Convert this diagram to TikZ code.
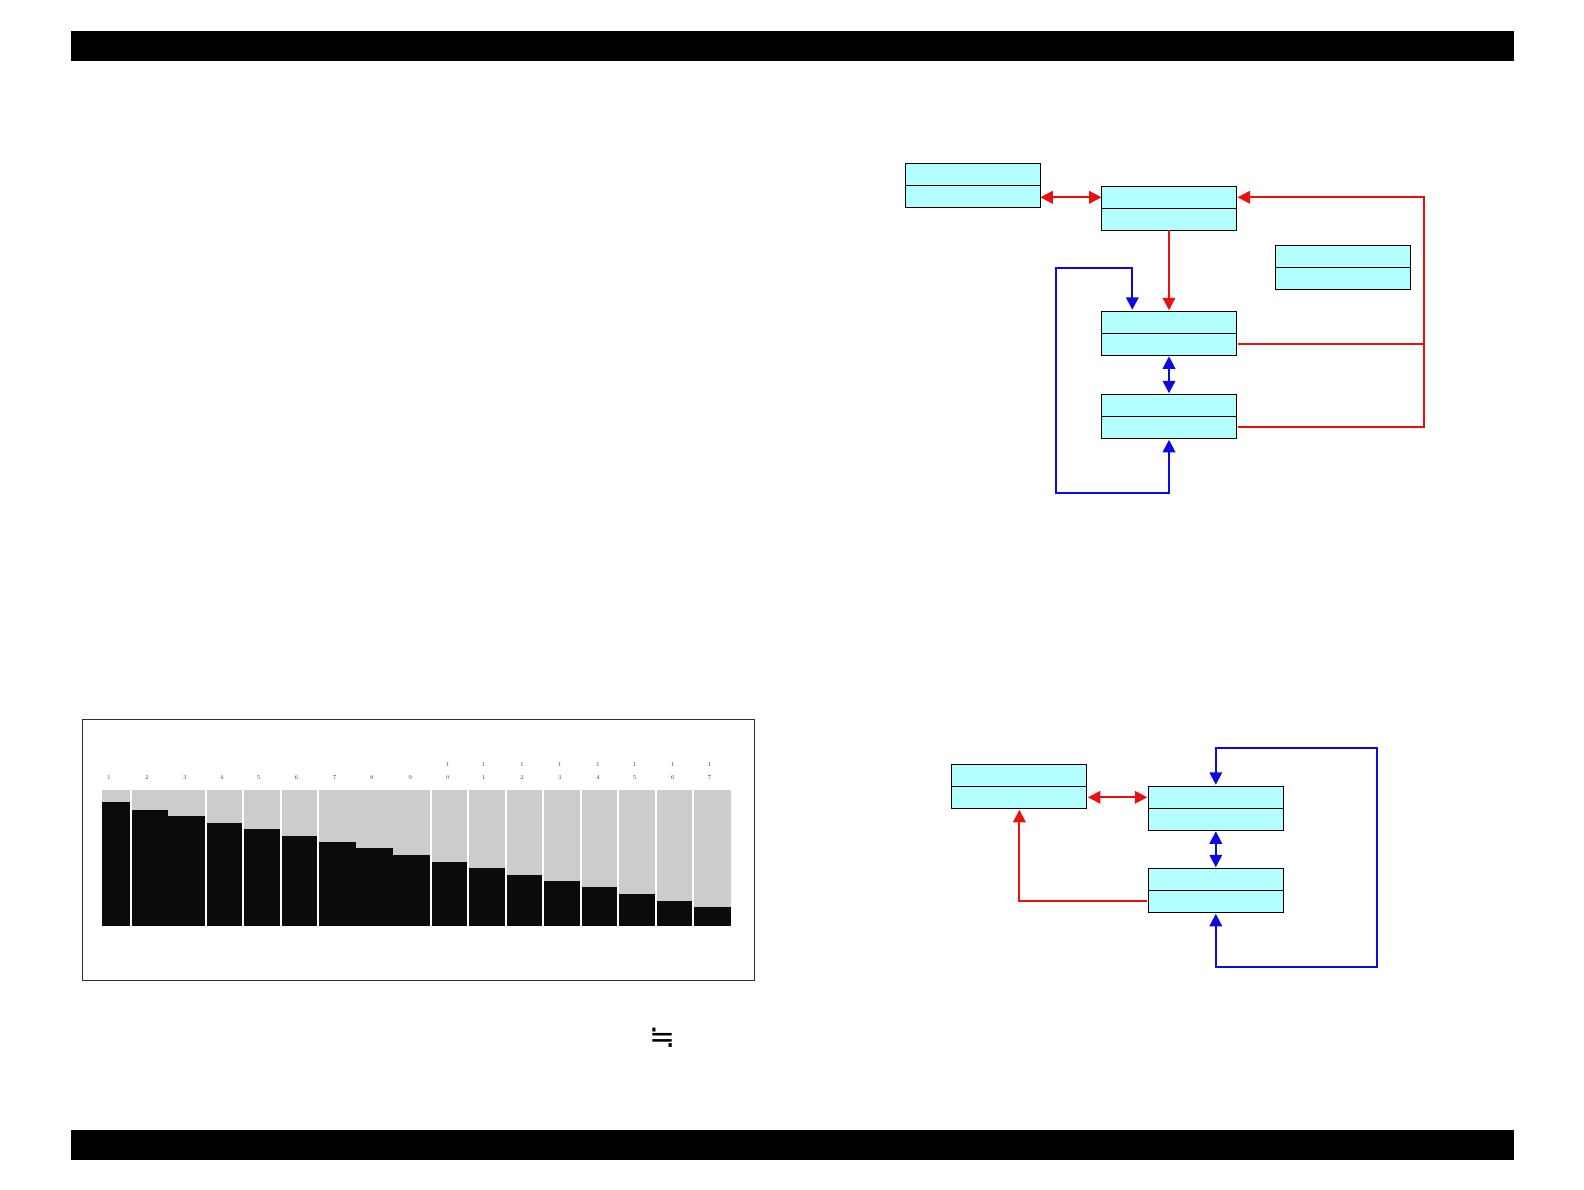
\documentclass[tikz,border=0pt]{standalone}
\usepackage{fontspec}
\newfontfamily\symfont{DejaVu Sans}
\usetikzlibrary{arrows.meta,calc}
\definecolor{boxcyan}{RGB}{179,255,255}
\definecolor{lred}{RGB}{235,15,15}
\definecolor{lblue}{RGB}{10,10,225}
\definecolor{bargray}{RGB}{204,204,206}
\definecolor{barblack}{RGB}{10,12,10}
\definecolor{labgray}{RGB}{70,70,70}
\begin{document}
\begin{tikzpicture}[x=1pt,y=-1pt,
  half/.style={draw=black, line width=0.9pt, fill=boxcyan, minimum width=135pt, minimum height=22pt, inner sep=0pt, outer sep=0pt},
  rline/.style={draw=lred, line width=2.1pt},
  bline/.style={draw=lblue, line width=2.1pt},
  >={Triangle[length=12.5pt,width=12.5pt]},
  lab/.style={font=\fontsize{6pt}{6pt}\selectfont, text=labgray, inner sep=0pt}]
\useasboundingbox (0,0) rectangle (1584,1190);
% header / footer bars
\fill[black] (70.7,31) rectangle (1514.3,61);
\fill[black] (70.7,1130) rectangle (1514.3,1160);
% chart frame
\draw[line width=0.8pt, draw=black!80] (82.8,719.3) rectangle (754.6,980.5);
% column 1
\fill[bargray] (102.3,790) rectangle (130.6,926.4);
\fill[barblack] (102.3,802.2) rectangle (130.6,926.4);
\foreach \i/\t in {2/809.8,3/816.4,4/823,5/828.9,6/835.5,7/842.4,8/848.3,9/855.2,10/861.8,11/867.8,12/874.7,13/881.3,14/887.2,15/893.8,16/901,17/906.6}{
  \pgfmathsetmacro\xa{130.6+37.51*(\i-2)}
  \fill[bargray] (\xa,790) rectangle (\xa+37.51,926.4);
  \fill[barblack] (\xa,\t) rectangle (\xa+37.51,926.4);
}
\foreach \x in {130.6,205.6,243.1,280.6,318.2,430.7,468.2,505.7,543.2,580.7,618.3,655.8,693.3}{
  \draw[white, line width=1.8pt] (\x,789) -- (\x,927.5);
}
% labels
\foreach \n/\x in {1/108.9,2/146.6,3/184.9,4/221.8,5/258.7,6/296.5,7/334.7,8/371.6,9/410.3}{
  \node[lab] (lab\n) at (\x,777.9) {\n};
}
\foreach \n/\d/\x in {10/0/447.6,11/1/483.7,12/2/521.9,13/3/559.7,14/4/597.9,15/5/634.8,16/6/672.6,17/7/709.5}{
  \node[lab] (labh\n) at (\x,764.7) {1};
  \node[lab] (lab\n) at (\x,777.9) {\d};
}
% symbol
\node[inner sep=0pt, font=\symfont\fontsize{31pt}{33pt}\selectfont] (sym) at (662,1038) {≒};
% ---- top diagram ----
\node[half] (At) at (972.8,174.3) {};
\node[half] (Ab) at (972.8,196.3) {};
\node[half] (Bt) at (1169,197.3) {};
\node[half] (Bb) at (1169,219.3) {};
\node[half] (Ct) at (1342.6,256.3) {};
\node[half] (Cb) at (1342.6,278.3) {};
\node[half] (Dt) at (1169,322.3) {};
\node[half] (Db) at (1169,344.3) {};
\node[half] (Et) at (1169,405.3) {};
\node[half] (Eb) at (1169,427.3) {};
\coordinate (rr) at (1424,197.3);
\coordinate (bl1) at (1132.3,267.7);
\coordinate (bl2) at (1056,492.7);
\draw[rline,<->] (Bt.west -| Ab.east) -- (Bt.west);
\draw[rline] ([xshift=1.2pt]Db.east) -- (Db.east -| rr);
\draw[rline,->] ([xshift=1.2pt]Eb.east) -- (Eb.east -| rr) -- (rr) -- ([xshift=1pt]Bt.east);
\draw[rline,->] (Bb.south) -- ([yshift=1pt]Dt.north);
\draw[bline,<->] ([yshift=-1pt]Db.south) -- ([yshift=1pt]Et.north);
\draw[bline,<->] ([yshift=1.5pt]Dt.north -| bl1) -- (bl1) -| (bl2) -| ([yshift=-1.5pt]Eb.south);
% ---- bottom diagram ----
\node[half] (Ft) at (1019.4,775.3) {};
\node[half] (Fb) at (1019.4,797.3) {};
\node[half] (Gt) at (1215.8,797.3) {};
\node[half] (Gb) at (1215.8,819.3) {};
\node[half] (Ht) at (1215.8,879.3) {};
\node[half] (Hb) at (1215.8,901.3) {};
\coordinate (bl3) at (1376.7,966.7);
\coordinate (bl4) at (1376.7,748);
\draw[rline,<->] ([xshift=1pt]Fb.east) -- ([xshift=-1pt]Gt.west);
\draw[bline,<->] ([yshift=-1pt]Gb.south) -- ([yshift=1pt]Ht.north);
\draw[bline,<->] ([yshift=-1.5pt]Hb.south) |- (bl3) -- (bl4) -| ([yshift=1.5pt]Gt.north);
\draw[rline,->] ([xshift=-1pt]Hb.west) -| ([yshift=-1.5pt]Fb.south);
\end{tikzpicture}
\end{document}
